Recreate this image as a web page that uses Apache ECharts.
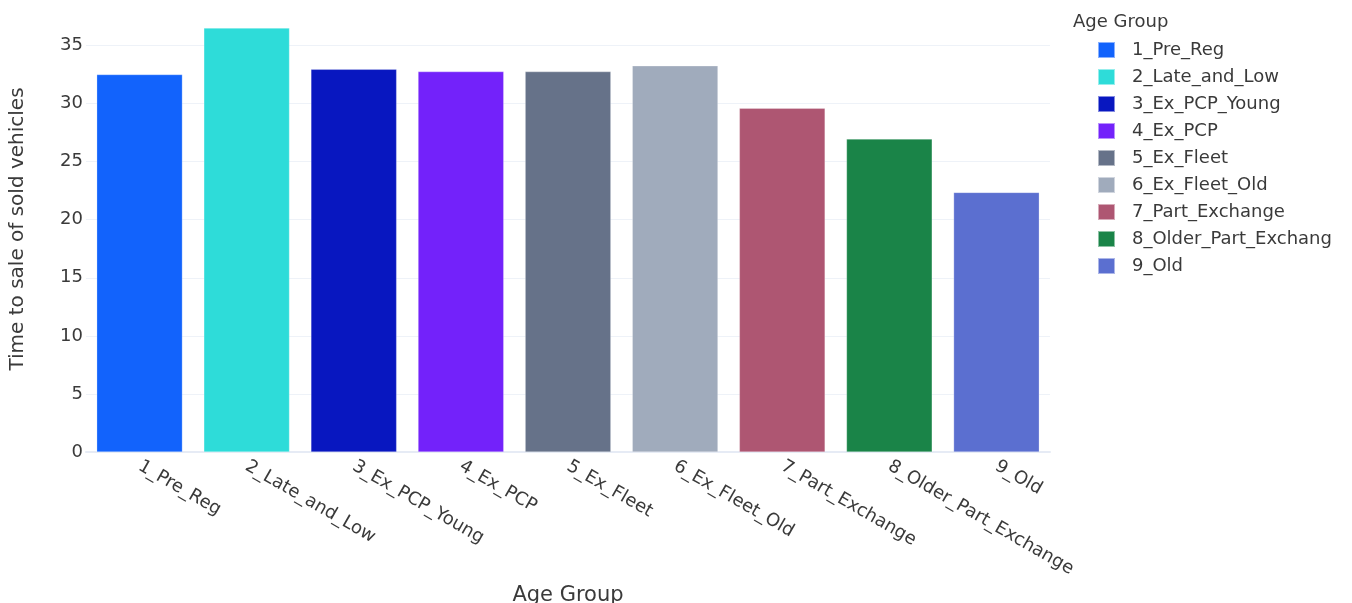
<!DOCTYPE html>
<html>
<head>
<meta charset="utf-8">
<script src="https://cdn.jsdelivr.net/npm/echarts@6/dist/echarts.min.js"></script>
<style>
  html, body { margin: 0; padding: 0; background: #fff; }
  #main { width: 1352px; height: 603px; }
</style>
</head>
<body>
<div id="main"></div>
<script>
var ageGroups = ['1_Pre_Reg', '2_Late_and_Low', '3_Ex_PCP_Young', '4_Ex_PCP', '5_Ex_Fleet',
  '6_Ex_Fleet_Old', '7_Part_Exchange', '8_Older_Part_Exchange', '9_Old'];
var saleTimes = [32.5, 36.5, 32.95, 32.75, 32.75, 33.25, 29.6, 26.95, 22.35];
var groupColors = ['#1263fc', '#2edcd9', '#0817c0', '#7322fa', '#667289',
  '#a0abbc', '#ae5672', '#1a8448', '#5b6fd0'];

var textColor = '#3a3a3a';
var fontName = '"DejaVu Sans", Verdana, sans-serif';

var chart = echarts.init(document.getElementById('main'));

var series = [];
for (var i = 0; i < ageGroups.length; i++) {
  var data = [];
  for (var j = 0; j < ageGroups.length; j++) {
    data.push(i === j ? saleTimes[i] : null);
  }
  series.push({
    name: ageGroups[i],
    type: 'bar',
    stack: 'all',
    barWidth: '80%',
    itemStyle: {
      color: groupColors[i],
      borderColor: 'rgba(255,255,255,0.5)',
      borderWidth: 0.5
    },
    data: data
  });
}

var option = {
  backgroundColor: '#fff',
  textStyle: { fontFamily: fontName, color: textColor },
  title: {
    text: 'Age Group',
    left: 1068,
    top: 8,
    textStyle: { fontFamily: fontName, fontSize: 18, fontWeight: 'normal', color: textColor }
  },
  legend: {
    orient: 'vertical',
    left: 1092,
    top: 36,
    itemWidth: 17,
    itemHeight: 16,
    itemGap: 9,
    icon: 'rect',
    data: ageGroups,
    textStyle: {
      fontFamily: fontName,
      fontSize: 18,
      lineHeight: 16,
      color: textColor,
      padding: [0, 0, 0, 12],
      width: 212,
      overflow: 'truncate',
      ellipsis: ''
    }
  },
  grid: {
    left: 86,
    right: 302,
    top: 6,
    bottom: 151,
    outerBoundsMode: 'none',
    containLabel: false
  },
  xAxis: {
    type: 'category',
    data: ageGroups,
    name: 'Age Group',
    nameLocation: 'middle',
    nameGap: 129,
    nameTextStyle: { fontSize: 21, color: textColor, fontFamily: fontName },
    axisLine: { lineStyle: { color: '#e6ebf5', width: 2 } },
    axisTick: { show: false },
    axisLabel: {
      rotate: -30,
      interval: 0,
      fontSize: 18,
      color: textColor,
      fontFamily: fontName,
      margin: 13
    }
  },
  yAxis: {
    type: 'value',
    min: 0,
    max: 38.4,
    interval: 5,
    name: 'Time to sale of sold vehicles',
    nameLocation: 'middle',
    nameGap: 58,
    nameTextStyle: { fontSize: 20, color: textColor, fontFamily: fontName },
    axisLine: { show: false },
    axisTick: { show: false },
    axisLabel: {
      fontSize: 18,
      color: textColor,
      fontFamily: fontName,
      margin: 3,
      showMaxLabel: false
    },
    splitLine: {
      showMaxLine: false,
      lineStyle: { color: '#eef2f8', width: 1 }
    }
  },
  series: series
};

chart.setOption(option);
</script>
</body>
</html>
